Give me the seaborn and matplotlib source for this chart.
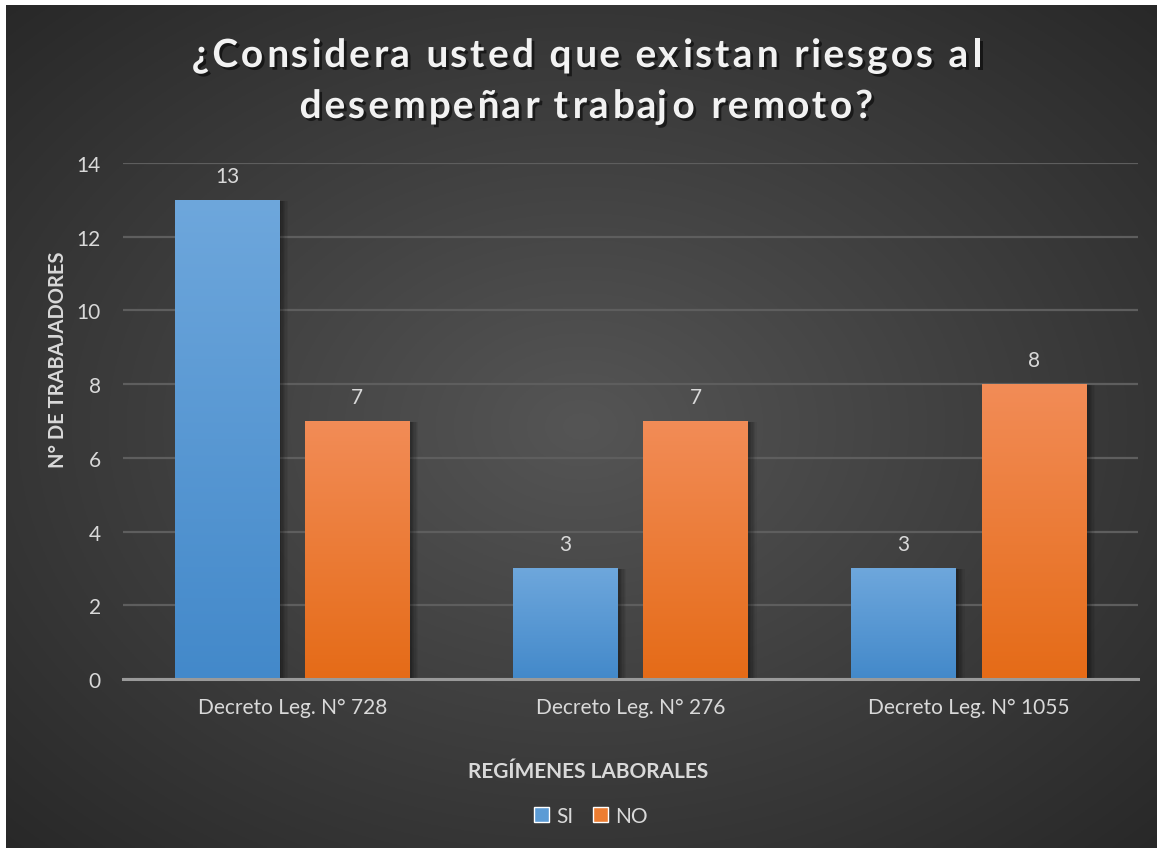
import numpy as np
import pandas as pd
import matplotlib
matplotlib.use("Agg")
import matplotlib.pyplot as plt
import matplotlib.patheffects as pe
from matplotlib.patches import Rectangle
from matplotlib import transforms, font_manager
from matplotlib.font_manager import FontProperties
from matplotlib.ft2font import FT2Font
import seaborn as sns

# Data
regimenes = ["Decreto Leg. N° 728", "Decreto Leg. N° 276", "Decreto Leg. N° 1055"]
respuestas = ["SI", "NO"]
si_values = [13, 3, 3]
no_values = [7, 7, 8]
y_ticks = [0, 2, 4, 6, 8, 10, 12, 14]
titulo = ["¿Considera usted que existan riesgos al", "desempeñar trabajo remoto?"]

df = pd.DataFrame({
    "Régimen": regimenes * 2,
    "Respuesta": ["SI"] * 3 + ["NO"] * 3,
    "Trabajadores": si_values + no_values,
})

sns.set_theme(style="dark")
plt.rcParams["font.family"] = ["Lato", "DejaVu Sans"]

W, H = 1159, 853
DPI = 100
fig = plt.figure(figsize=(W / DPI, H / DPI), dpi=DPI)
fig.patch.set_facecolor("white")

# Dark radial background panel
bg = fig.add_axes([6 / W, 4 / H, (W - 8) / W, (H - 10) / H])
bg.set_axis_off()
yy, xx = np.mgrid[0:1:400j, 0:1:560j]
r = np.sqrt(((xx - 0.5) / 0.75) ** 2 + ((yy - 0.5) / 0.75) ** 2)
r = np.clip(r / 0.95, 0, 1)
c_in = np.array([0x55, 0x55, 0x55]) / 255
c_out = np.array([0x28, 0x28, 0x28]) / 255
img = c_in[None, None, :] * (1 - r[..., None]) + c_out[None, None, :] * r[..., None]
bg.imshow(img, extent=[0, 1, 0, 1], aspect="auto", origin="lower")
bg.set_xlim(0, 1)
bg.set_ylim(0, 1)

# Plot area
left, right = 123 / W, 1138 / W
bottom, top = 1 - 680 / H, 1 - 164 / H
ax = fig.add_axes([left, bottom, right - left, top - bottom])
ax.patch.set_alpha(0)

palette = {"SI": "#5b9bd5", "NO": "#ed7d31"}
sns.barplot(data=df, x="Régimen", y="Trabajadores", hue="Respuesta",
            hue_order=respuestas, order=regimenes, palette=palette,
            width=0.77, gap=0.195, ax=ax, legend=False, zorder=3)

ax.set_xlim(-0.5, 2.5)
ax.set_ylim(0, 14)
ax.set_yticks(y_ticks)
ax.grid(axis="y", color="#5e5e5e", linewidth=1.6, zorder=0)
ax.grid(axis="x", visible=False)
for s in ["left", "right", "top"]:
    ax.spines[s].set_visible(False)
ax.spines["bottom"].set_color("#9a9a9a")
ax.spines["bottom"].set_linewidth(2.2)
ax.spines["bottom"].set_zorder(6)

text_col = "#d9d9d9"
ax.tick_params(axis="both", colors=text_col, labelsize=15, length=0)
ax.tick_params(axis="x", pad=13)
ax.tick_params(axis="y", pad=16)

grad = {
    "SI": ("#6ea7dc", "#4389ca"),
    "NO": ("#f28c57", "#e56b17"),
}

def hex_rgb(h):
    return np.array([int(h[i:i + 2], 16) for i in (1, 3, 5)]) / 255

bars = list(ax.patches)
for i, p in enumerate(bars):
    key = respuestas[i // len(regimenes)]
    x0, y0 = p.get_x(), p.get_y()
    w, h = p.get_width(), p.get_height()
    # soft shadow to the right of each bar
    for k, a in enumerate([0.10, 0.09, 0.08, 0.07, 0.06, 0.05]):
        off = transforms.offset_copy(ax.transData, fig=fig, x=2 + k * 1.3, y=-1, units="dots")
        ax.add_patch(Rectangle((x0, y0), w, h, facecolor="black", alpha=a,
                               edgecolor="none", transform=off, zorder=2))
    top_c, bot_c = hex_rgb(grad[key][0]), hex_rgb(grad[key][1])
    t = np.linspace(0, 1, 256)[:, None]
    g = bot_c[None, :] * (1 - t) + top_c[None, :] * t
    g = g[:, None, :]
    im = ax.imshow(g, extent=[x0, x0 + w, y0, y0 + h], aspect="auto",
                   origin="lower", zorder=4)
    im.set_clip_path(p)
    p.set_edgecolor("none")
    ax.text(x0 + w / 2, h + 0.38, f"{int(h)}", ha="center", va="bottom",
            color=text_col, fontsize=15, zorder=5)

ax.set_xlim(-0.5, 2.5)
ax.set_ylim(0, 14)

ax.set_xlabel("REGÍMENES LABORALES", color=text_col, fontsize=15, fontweight="bold")
ax.xaxis.set_label_coords(0.458, -0.159)
ax.set_ylabel("N° DE TRABAJADORES", color=text_col, fontsize=14.5, fontweight="bold")
ax.yaxis.set_label_coords(-0.054, 0.62)

# Title with widened letter spacing
title_size = 28
tracking = 3.0  # extra pixels between glyphs
title_prop = FontProperties(family="Lato", weight="bold", size=title_size)
ft = FT2Font(font_manager.findfont(title_prop))
ft.set_size(title_size, DPI)
shadow = [pe.withSimplePatchShadow(offset=(2, -2), shadow_rgbFace="black", alpha=0.55)]
title_cx = 585
baselines = [68, 119]
for line, base in zip(titulo, baselines):
    glyphs = [ft.load_char(ord(c)) for c in line]
    adv = [g.linearHoriAdvance / 65536 for g in glyphs]
    total = sum(adv) + tracking * (len(line) - 1)
    pen = title_cx - total / 2
    for c, g, a in zip(line, glyphs, adv):
        if c != " ":
            fig.text((pen + g.horiBearingX / 64) / W, 1 - base / H, c,
                     ha="left", va="baseline", color="#f2f2f2",
                     fontproperties=title_prop, path_effects=shadow)
        pen += a + tracking

handles = [Rectangle((0, 0), 1, 1, facecolor=palette[k]) for k in respuestas]
leg = fig.legend(handles, respuestas, loc="center", bbox_to_anchor=(591 / W, 1 - 817 / H),
                 ncol=2, frameon=False, fontsize=15, handlelength=0.75,
                 handleheight=0.75, handletextpad=0.35, columnspacing=0.9)
for txt in leg.get_texts():
    txt.set_color(text_col)

fig.savefig("out.png", dpi=DPI, facecolor=fig.get_facecolor())
